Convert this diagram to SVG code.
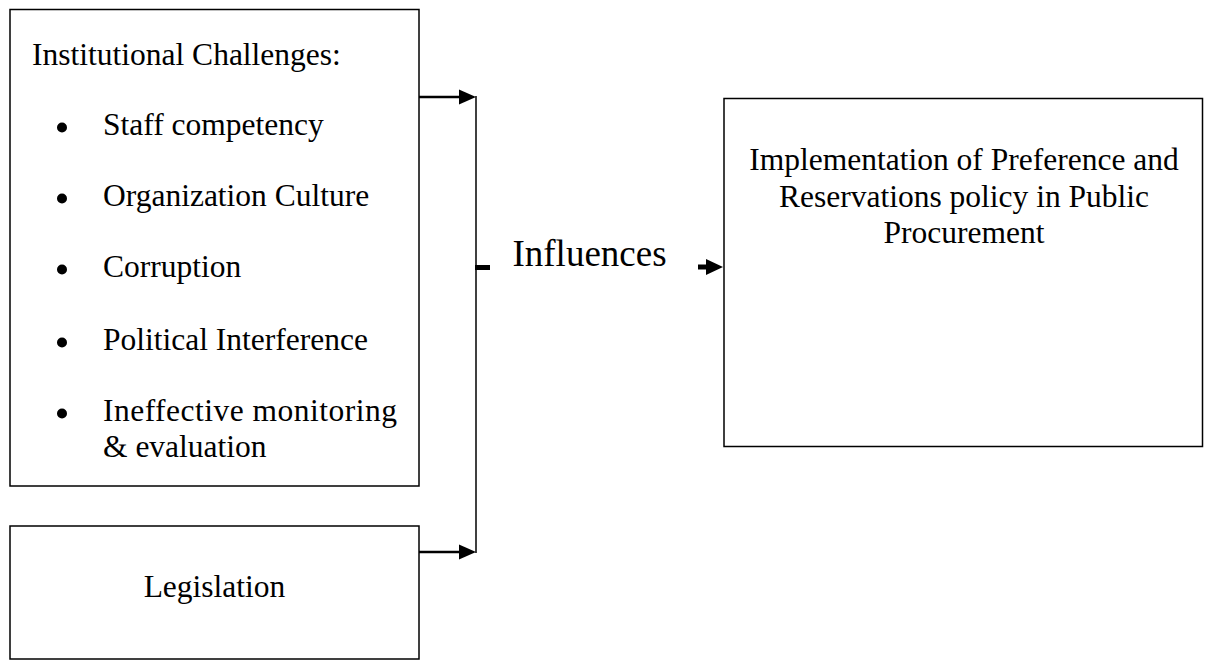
<svg xmlns="http://www.w3.org/2000/svg" width="1208" height="660" viewBox="0 0 1208 660">
<style>
  .box { fill: #ffffff; stroke: #000000; stroke-width: 1.5; }
  .t { font-family: "Liberation Serif", "Times New Roman", serif; font-size: 31.5px; fill: #000000; }
  .c { text-anchor: middle; }
  .ln { stroke: #000000; fill: none; }
  .ah { fill: #000000; stroke: none; }
  .bul { fill: #000000; }
</style>
<rect width="1208" height="660" fill="#ffffff"/>
<g id="institutional-challenges">
  <rect class="box" x="10" y="9.5" width="409" height="476.5"/>
  <text class="t" x="32" y="65">Institutional Challenges:</text>
  <circle class="bul" cx="62" cy="127.5" r="5"/>
  <text class="t" x="103" y="135">Staff competency</text>
  <circle class="bul" cx="62" cy="198.5" r="5"/>
  <text class="t" x="103" y="206">Organization Culture</text>
  <circle class="bul" cx="62" cy="269.5" r="5"/>
  <text class="t" x="103" y="277">Corruption</text>
  <circle class="bul" cx="62" cy="342.5" r="5"/>
  <text class="t" x="103" y="350">Political Interference</text>
  <circle class="bul" cx="62" cy="413.5" r="5"/>
  <text class="t" x="103" y="421" textLength="294" lengthAdjust="spacing">Ineffective monitoring</text>
  <text class="t" x="103" y="457">&amp; evaluation</text>
</g>
<g id="legislation">
  <rect class="box" x="10" y="526" width="409" height="133"/>
  <text class="t c" x="214.5" y="597">Legislation</text>
</g>
<g id="implementation">
  <rect class="box" x="724" y="98.5" width="478.5" height="348"/>
  <text class="t c" x="964" y="170">Implementation of Preference and</text>
  <text class="t c" x="964" y="207">Reservations policy in Public</text>
  <text class="t c" x="964" y="243">Procurement</text>
</g>
<g id="connectors">
  <line class="ln" x1="419" y1="97" x2="462" y2="97" stroke-width="2.5"/>
  <polygon class="ah" points="459,89.5 476,97 459,104.5"/>
  <line class="ln" x1="419" y1="552" x2="462" y2="552" stroke-width="2.5"/>
  <polygon class="ah" points="459,544.5 476,552 459,559.5"/>
  <line class="ln" x1="476" y1="96" x2="476" y2="553" stroke-width="1.5"/>
  <line class="ln" x1="475" y1="267.5" x2="490" y2="267.5" stroke-width="5"/>
  <line class="ln" x1="698" y1="267" x2="708" y2="267" stroke-width="5"/>
  <polygon class="ah" points="706,259 723,267 706,275"/>
</g>
<g id="label">
  <text class="t c" x="589.5" y="266" style="font-size:37px">Influences</text>
</g>
</svg>
